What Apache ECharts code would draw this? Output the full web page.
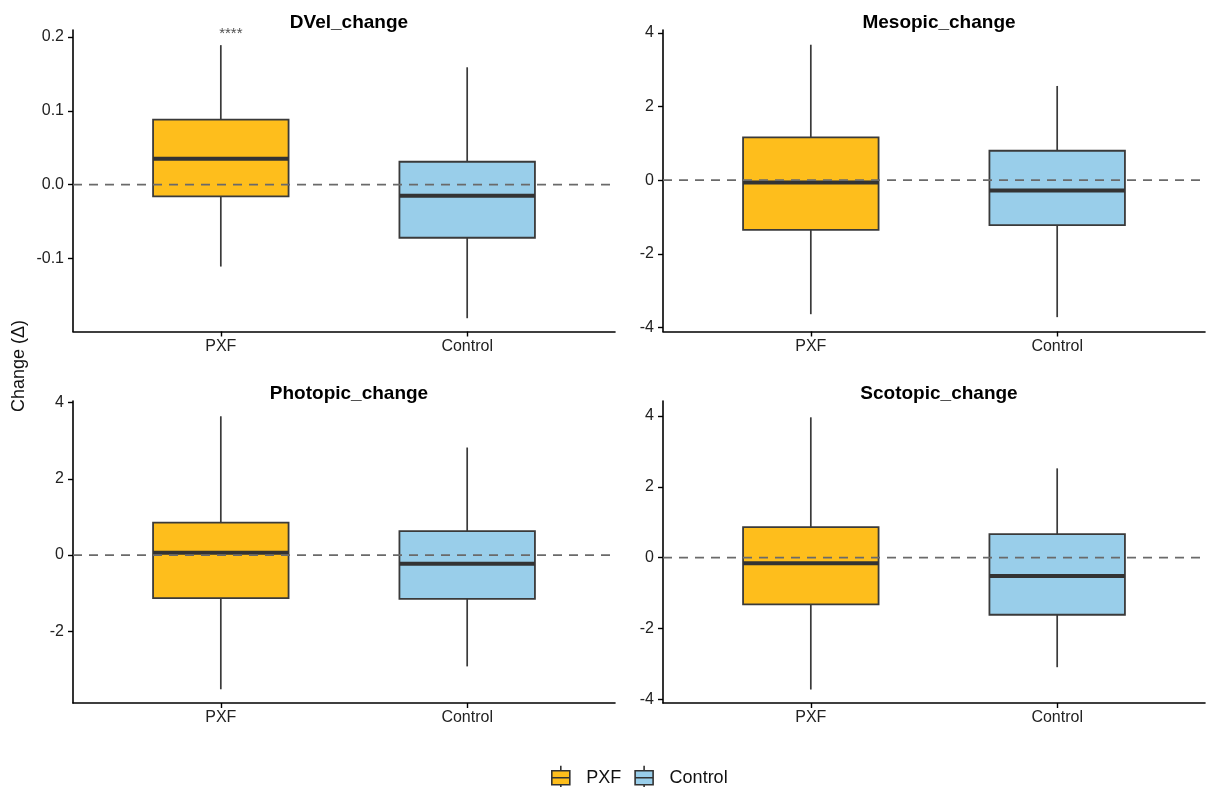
<!DOCTYPE html>
<html>
<head>
<meta charset="utf-8">
<script src="https://cdn.jsdelivr.net/npm/echarts@6/dist/echarts.min.js"></script>
<style>
  html, body { margin: 0; padding: 0; background: #ffffff; }
  #chart { width: 1208px; height: 787px; }
</style>
</head>
<body>
<div id="chart"></div>
<script>
// ---- data ----
const categories = ['PXF', 'Control'];
const panelTitles = ['DVel_change', 'Mesopic_change', 'Photopic_change', 'Scotopic_change'];
// box stats: [lower whisker, Q1, median, Q3, upper whisker]
const dvelPXF = [-0.111, -0.016, 0.035, 0.088, 0.189];
const dvelControl = [-0.181, -0.072, -0.015, 0.031, 0.159];
const mesopicPXF = [-3.64, -1.35, -0.06, 1.165, 3.68];
const mesopicControl = [-3.72, -1.22, -0.28, 0.80, 2.56];
const photopicPXF = [-3.52, -1.13, 0.06, 0.85, 3.64];
const photopicControl = [-2.92, -1.15, -0.23, 0.63, 2.82];
const scotopicPXF = [-3.72, -1.32, -0.16, 0.86, 3.96];
const scotopicControl = [-3.09, -1.61, -0.515, 0.665, 2.52];
// y tick labels
const dvelTicks = [-0.1, 0.0, 0.1, 0.2];
const mesopicTicks = [-4, -2, 0, 2, 4];
const photopicTicks = [-2, 0, 2, 4];
const scotopicTicks = [-4, -2, 0, 2, 4];
// y ranges
const dvelRange = [-0.199, 0.2095];
const mesopicRange = [-4.11, 4.08];
const photopicRange = [-3.88, 4.04];
const scotopicRange = [-4.10, 4.42];
const referenceValue = 0;
const signifLabel = '****';
const signifPos = [1, 0.205];

// ---- layout / style ----
const FONT = '"Liberation Sans", Arial, Helvetica, sans-serif';
const colors = { PXF: '#FEBE1C', Control: '#99CEEA' };
const grids = [
  { left: 73, top: 30, width: 542, height: 301.5 },
  { left: 663, top: 30, width: 542, height: 301.5 },
  { left: 73, top: 401, width: 542, height: 302 },
  { left: 663, top: 401, width: 542, height: 302 }
];
const panels = [
  { stats: [dvelPXF, dvelControl], ticks: dvelTicks, range: dvelRange, fmt: v => v.toFixed(1) },
  { stats: [mesopicPXF, mesopicControl], ticks: mesopicTicks, range: mesopicRange, fmt: v => String(v) },
  { stats: [photopicPXF, photopicControl], ticks: photopicTicks, range: photopicRange, fmt: v => String(v) },
  { stats: [scotopicPXF, scotopicControl], ticks: scotopicTicks, range: scotopicRange, fmt: v => String(v) }
];
const catPos = categories.map((c, i) => i + 1);
const halfWidth = 0.275;

function renderBox(params, api) {
  const x = api.value(0);
  const lo = api.value(1), q1 = api.value(2), med = api.value(3), q3 = api.value(4), hi = api.value(5);
  const pLo = api.coord([x, lo]);
  const pQ1 = api.coord([x, q1]);
  const pQ3 = api.coord([x, q3]);
  const pHi = api.coord([x, hi]);
  const tl = api.coord([x - halfWidth, q3]);
  const br = api.coord([x + halfWidth, q1]);
  const mL = api.coord([x - halfWidth, med]);
  const mR = api.coord([x + halfWidth, med]);
  const stroke = '#3a3a3a';
  return {
    type: 'group',
    children: [
      { type: 'line', shape: { x1: pHi[0], y1: pHi[1], x2: pQ3[0], y2: pQ3[1] }, style: { stroke: stroke, lineWidth: 1.7 } },
      { type: 'line', shape: { x1: pQ1[0], y1: pQ1[1], x2: pLo[0], y2: pLo[1] }, style: { stroke: stroke, lineWidth: 1.7 } },
      { type: 'rect', shape: { x: tl[0], y: tl[1], width: br[0] - tl[0], height: br[1] - tl[1] }, style: { fill: api.visual('color'), stroke: stroke, lineWidth: 1.8 } },
      { type: 'line', shape: { x1: mL[0], y1: mL[1], x2: mR[0], y2: mR[1] }, style: { stroke: '#333333', lineWidth: 4 } }
    ]
  };
}

const xAxes = [], yAxes = [], series = [], titles = [];
panels.forEach((p, i) => {
  const g = grids[i];
  titles.push({
    text: panelTitles[i],
    left: g.left + g.width / 2,
    top: g.top - 22,
    textAlign: 'center',
    textStyle: { fontFamily: FONT, fontWeight: 'bold', fontSize: 19, color: '#000' }
  });
  xAxes.push({
    type: 'value', gridIndex: i, min: 0.4, max: 2.6,
    axisLine: { show: true, onZero: false, lineStyle: { color: '#000', width: 1.6 } },
    axisTick: { show: true, customValues: catPos, length: 5, lineStyle: { color: '#000', width: 1.4 } },
    axisLabel: { customValues: catPos, formatter: v => categories[Math.round(v) - 1] || '', color: '#222', fontFamily: FONT, fontSize: 16, margin: 7 },
    splitLine: { show: false }
  });
  yAxes.push({
    type: 'value', gridIndex: i, min: p.range[0], max: p.range[1],
    axisLine: { show: true, onZero: false, lineStyle: { color: '#000', width: 1.6 } },
    axisTick: { show: true, customValues: p.ticks, length: 5, lineStyle: { color: '#000', width: 1.4 } },
    axisLabel: { customValues: p.ticks, formatter: p.fmt, color: '#222', fontFamily: FONT, fontSize: 16, margin: 9 },
    splitLine: { show: false }
  });
  categories.forEach((c, k) => {
    series.push({
      name: c, type: 'custom', xAxisIndex: i, yAxisIndex: i,
      itemStyle: { color: colors[c] },
      renderItem: renderBox,
      encode: { x: 0, y: [1, 2, 3, 4, 5] },
      data: [[catPos[k]].concat(p.stats[k])],
      z: 2
    });
  });
  series.push({
    name: 'ref' + i, type: 'line', xAxisIndex: i, yAxisIndex: i,
    data: [[0.4, referenceValue], [2.6, referenceValue]],
    symbol: 'none', silent: true, z: 5,
    lineStyle: { color: '#6a6a6a', width: 1.7, type: [9, 7] }
  });
});

series.push({
  name: 'signif', type: 'scatter', xAxisIndex: 0, yAxisIndex: 0,
  data: [signifPos], symbolSize: 0, silent: true, z: 6,
  label: { show: true, position: 'inside', offset: [10, 1], formatter: signifLabel, fontFamily: FONT, fontSize: 15, color: '#222' }
});

const chart = echarts.init(document.getElementById('chart'), null, { renderer: 'canvas' });
chart.setOption({
  animation: false,
  backgroundColor: '#ffffff',
  title: titles,
  grid: grids,
  xAxis: xAxes,
  yAxis: yAxes,
  legend: {
    data: categories,
    left: 546, top: 760,
    orient: 'horizontal',
    itemWidth: 21, itemHeight: 24, itemGap: 13,
    icon: 'path://M1,5 L19,5 L19,19 L1,19 Z M1,12 L19,12 M10,0 L10,5 M10,19 L10,24',
    itemStyle: { borderColor: '#333', borderWidth: 1.6 },
    textStyle: { fontFamily: FONT, fontSize: 18, color: '#111', padding: [0, 0, 0, 10] }
  },
  graphic: [{
    type: 'text', x: 19, y: 366, rotation: Math.PI / 2,
    style: { text: 'Change (Δ)', textAlign: 'center', textVerticalAlign: 'middle', font: '18px ' + FONT, fill: '#111' }
  }],
  series: series
});
</script>
</body>
</html>
